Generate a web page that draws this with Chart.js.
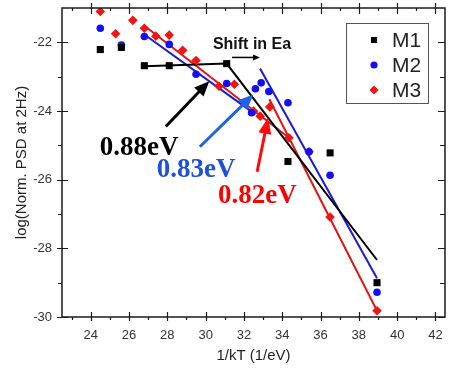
<!DOCTYPE html>
<html><head><meta charset="utf-8">
<script src="https://cdn.jsdelivr.net/npm/chart.js@4/dist/chart.umd.min.js"></script>
<style>html,body{margin:0;padding:0;background:#fff}</style>
</head><body>
<canvas id="c" width="450" height="368"></canvas>
<script>
// ---- data ----
const m1X = [24.5, 25.6, 26.8, 28.1, 31.1, 34.3, 36.5, 38.95];
const m1Y = [-22.21, -22.15, -22.68, -22.68, -22.62, -25.47, -25.22, -29.0];
const m2X = [24.5, 25.6, 26.8, 28.1, 29.5, 31.1, 32.4, 32.6, 32.9, 33.3, 34.3, 35.4, 36.5, 38.95];
const m2Y = [-21.59, -22.08, -21.83, -22.06, -22.93, -23.20, -24.05, -23.35, -23.18, -23.43, -23.76, -25.19, -25.87, -29.28];
const m3X = [24.5, 25.3, 26.2, 26.8, 27.4, 28.1, 28.8, 29.5, 30.7, 31.5, 32.5, 32.85, 33.35, 34.35, 35.4, 36.5, 38.95];
const m3Y = [-21.10, -21.75, -21.36, -21.59, -21.82, -21.79, -22.23, -22.53, -23.28, -23.22, -24.0, -24.15, -23.88, -24.78, -25.19, -27.09, -29.82];
// fit lines
const fitM1X = [26.8, 31.1, 38.95];
const fitM1Y = [-22.70, -22.62, -28.34];
const fitM2aX = [26.8, 32.6];
const fitM2aY = [-21.77, -24.10];
const fitM2bX = [32.84, 38.95];
const fitM2bY = [-22.76, -28.87];
const fitM3aX = [26.77, 34.4];
const fitM3aY = [-21.50, -24.80];
const fitM3bX = [33.33, 38.95];
const fitM3bY = [-23.66, -29.82];
// axes
const xTicks = [24, 26, 28, 30, 32, 34, 36, 38, 40, 42];
const xMinor = [23, 25, 27, 29, 31, 33, 35, 37, 39, 41];
const yTicks = [-30, -28, -26, -24, -22];
const yMinor = [-29, -27, -25, -23];
const seriesNames = ['M1', 'M2', 'M3'];
const xTitle = '1/kT (1/eV)';
const yTitle = 'log(Norm. PSD at 2Hz)';
// annotations (data coordinates)
const arrows = [
  {x1: 27.92, y1: -24.45, x2: 30.19, y2: -23.13, color: '#000000', w: 3, L: 15, W: 13},
  {x1: 29.70, y1: -25.04, x2: 32.49, y2: -23.52, color: '#1f63e6', w: 3, L: 15, W: 13},
  {x1: 32.69, y1: -25.77, x2: 33.26, y2: -24.20, color: '#ff0a0a', w: 3, L: 16, W: 13},
  {x1: 31.38, y1: -22.44, x2: 32.84, y2: -22.44, color: '#000000', w: 1.5, L: 7, W: 6}
];
const labels = [
  {text: 'Shift in Ea', x: 30.38, y: -22.18, color: '#111', font: 'bold 16px "Liberation Sans", Arial, sans-serif'},
  {text: '0.88eV', x: 24.47, y: -25.27, color: '#000', font: 'bold 27px "Liberation Serif", "Times New Roman", serif'},
  {text: '0.83eV', x: 27.45, y: -25.91, color: '#1f50d8', font: 'bold 27px "Liberation Serif", "Times New Roman", serif'},
  {text: '0.82eV', x: 30.65, y: -26.67, color: '#ff0000', font: 'bold 27px "Liberation Serif", "Times New Roman", serif'}
];

const pts = (xs, ys) => xs.map((x, i) => ({x: x, y: ys[i]}));
const BLACK = '#000000', BLUE = '#1010f0', RED = '#f01414';
const BLUEL = '#1a1ad0', REDL = '#e01515';

const lineDs = (xs, ys, c) => ({data: pts(xs, ys), showLine: true, pointRadius: 0, borderColor: c, borderWidth: 2, fill: false, order: 2});

const overlay = {
  id: 'overlay',
  afterDatasetsDraw(chart) {
    const ctx = chart.ctx, xs = chart.scales.x, ys = chart.scales.y, a = chart.chartArea;
    ctx.save();
    // frame
    ctx.strokeStyle = '#1a1a1a'; ctx.lineWidth = 1.5;
    ctx.strokeRect(a.left, a.top, a.right - a.left, a.bottom - a.top);
    ctx.lineWidth = 1.2;
    ctx.beginPath();
    xTicks.forEach(v => { const p = Math.round(xs.getPixelForValue(v)) + 0.5;
      ctx.moveTo(p, a.bottom + 4); ctx.lineTo(p, a.bottom - 5);
      ctx.moveTo(p, a.top - 5); ctx.lineTo(p, a.top + 6); });
    xMinor.forEach(v => { const p = Math.round(xs.getPixelForValue(v)) + 0.5;
      ctx.moveTo(p, a.bottom + 3); ctx.lineTo(p, a.bottom);
      ctx.moveTo(p, a.top); ctx.lineTo(p, a.top + 3); });
    yTicks.forEach(v => { const p = Math.round(ys.getPixelForValue(v)) + 0.5;
      ctx.moveTo(a.left - 5, p); ctx.lineTo(a.left + 6, p);
      ctx.moveTo(a.right, p); ctx.lineTo(a.right - 7, p); });
    yMinor.forEach(v => { const p = Math.round(ys.getPixelForValue(v)) + 0.5;
      ctx.moveTo(a.left - 4, p); ctx.lineTo(a.left, p);
      ctx.moveTo(a.right, p); ctx.lineTo(a.right - 5, p); });
    ctx.stroke();
    // arrows
    arrows.forEach(ar => {
      const x1 = xs.getPixelForValue(ar.x1), y1 = ys.getPixelForValue(ar.y1);
      const x2 = xs.getPixelForValue(ar.x2), y2 = ys.getPixelForValue(ar.y2);
      const ang = Math.atan2(y2 - y1, x2 - x1);
      const bx = x2 - ar.L * Math.cos(ang), by = y2 - ar.L * Math.sin(ang);
      ctx.strokeStyle = ar.color; ctx.fillStyle = ar.color; ctx.lineWidth = ar.w;
      ctx.beginPath(); ctx.moveTo(x1, y1); ctx.lineTo(bx + Math.cos(ang), by + Math.sin(ang)); ctx.stroke();
      ctx.beginPath(); ctx.moveTo(x2, y2);
      ctx.lineTo(bx + ar.W / 2 * Math.sin(ang), by - ar.W / 2 * Math.cos(ang));
      ctx.lineTo(bx - ar.W / 2 * Math.sin(ang), by + ar.W / 2 * Math.cos(ang));
      ctx.closePath(); ctx.fill();
    });
    // labels
    ctx.textAlign = 'left'; ctx.textBaseline = 'alphabetic';
    labels.forEach(l => { ctx.font = l.font; ctx.fillStyle = l.color;
      ctx.fillText(l.text, xs.getPixelForValue(l.x), ys.getPixelForValue(l.y)); });
    // legend box
    const lx = a.right - 99, ly = a.top + 15, lw = 82, lh = 80;
    ctx.fillStyle = '#fff'; ctx.fillRect(lx, ly, lw, lh);
    ctx.strokeStyle = '#555'; ctx.lineWidth = 1;
    ctx.strokeRect(lx + 0.5, ly + 0.5, lw, lh);
    const styles = [
      {ps: 'rect', r: 4.3, c: BLACK}, {ps: 'circle', r: 3.6, c: BLUE}, {ps: 'rectRot', r: 4.6, c: RED}];
    ctx.font = '21px "Liberation Sans", Arial, sans-serif';
    ctx.textBaseline = 'middle';
    seriesNames.forEach((n, i) => {
      const yy = ly + 17 + i * 25;
      ctx.fillStyle = styles[i].c; ctx.strokeStyle = styles[i].c;
      Chart.helpers.drawPoint(ctx, {pointStyle: styles[i].ps, radius: styles[i].r, borderWidth: 0}, lx + 28, yy);
      ctx.fillStyle = '#222';
      ctx.fillText(n, lx + 46, yy + 1);
    });
    ctx.restore();
  }
};

new Chart(document.getElementById('c'), {
  type: 'scatter',
  data: {datasets: [
    {label: seriesNames[0], data: pts(m1X, m1Y), pointStyle: 'rect', pointRadius: 5, backgroundColor: BLACK, borderColor: BLACK, borderWidth: 0, order: 1},
    {label: seriesNames[1], data: pts(m2X, m2Y), pointStyle: 'circle', pointRadius: 3.8, backgroundColor: BLUE, borderColor: BLUE, borderWidth: 0, order: 1},
    {label: seriesNames[2], data: pts(m3X, m3Y), pointStyle: 'rectRot', pointRadius: 4.8, backgroundColor: RED, borderColor: RED, borderWidth: 0, order: 1},
    lineDs(fitM1X, fitM1Y, BLACK),
    lineDs(fitM2aX, fitM2aY, BLUEL),
    lineDs(fitM2bX, fitM2bY, BLUEL),
    lineDs(fitM3aX, fitM3aY, REDL),
    lineDs(fitM3bX, fitM3bY, REDL)
  ]},
  options: {
    responsive: false, animation: false, devicePixelRatio: 1,
    layout: {padding: {top: 8, right: 5, left: 0, bottom: 0}},
    plugins: {legend: {display: false}, tooltip: {enabled: false}},
    scales: {
      x: {type: 'linear', min: 22.5, max: 42.5,
        afterBuildTicks: s => { s.ticks = xTicks.map(v => ({value: v})); },
        afterFit: s => { s.height = 51; s.paddingLeft = 0; s.paddingRight = 0; },
        grid: {display: false, drawTicks: false}, border: {display: false},
        ticks: {padding: 11, color: '#333', font: {family: '"Liberation Sans", Arial, sans-serif', size: 13}},
        title: {display: true, text: xTitle, color: '#222', font: {family: '"Liberation Sans", Arial, sans-serif', size: 15}, padding: {top: 0, bottom: 3}}},
      y: {type: 'linear', min: -30, max: -21,
        afterBuildTicks: s => { s.ticks = yTicks.map(v => ({value: v})); },
        afterFit: s => { s.width = 62; s.paddingTop = 0; s.paddingBottom = 0; },
        grid: {display: false, drawTicks: false}, border: {display: false},
        ticks: {padding: 10, color: '#333', font: {family: '"Liberation Sans", Arial, sans-serif', size: 13}},
        title: {display: true, text: yTitle, color: '#222', font: {family: '"Liberation Sans", Arial, sans-serif', size: 15}, padding: {top: 13, bottom: 0}}}
    }
  },
  plugins: [overlay]
});
</script>
</body></html>
